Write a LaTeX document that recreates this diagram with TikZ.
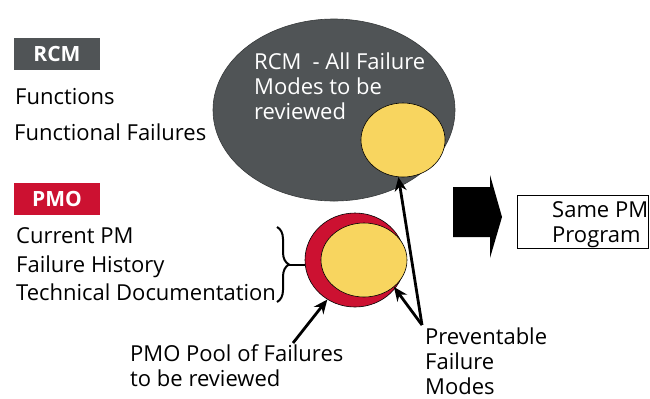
\documentclass[tikz,border=0pt]{standalone}
\usepackage{fontspec}
\setmainfont{Open Sans}
\usetikzlibrary{arrows.meta, shapes.geometric, decorations.pathreplacing}
\definecolor{rcmgray}{RGB}{80,84,86}
\definecolor{pmored}{RGB}{204,17,49}
\definecolor{poolyellow}{RGB}{248,213,95}

\begin{document}
\begin{tikzpicture}[>=Stealth, x=1bp, y=-1bp,
		txt/.style={font=\fontsize{22bp}{25bp}\selectfont, inner sep=0pt, align=left},
		tag/.style={font=\fontsize{21bp}{25bp}\selectfont\bfseries, text=white, minimum width=86bp, minimum height=32bp, inner sep=0pt},
		pool/.style={ellipse, draw=black, line width=0.6bp, inner sep=0pt},
		pointer/.style={->, line width=2.8bp, >={Stealth[length=14bp, width=12bp]}}]
	\useasboundingbox (0,0) rectangle (650,398);
	
	% RCM inputs
	\node[tag, fill=rcmgray] (rcmtag) at (57,53.5) {RCM};
	\node[txt, anchor=base west] (functions) at (15,104) {Functions};
	\node[txt, anchor=base west] (funcfail) at (14,140) {Functional Failures};
	
	% PMO inputs
	\node[tag, fill=pmored] (pmotag) at (57,199) {PMO};
	\node[txt, anchor=base west] (currentpm) at (16,243) {Current PM};
	\node[txt, anchor=base west] (history) at (16,272) {Failure History};
	\node[txt, anchor=base west] (techdoc) at (16,300) {Technical Documentation};
	
	% RCM pool (base anchor sits on the last line)
	\node[pool, draw=rcmgray!70!black, fill=rcmgray, minimum width=242bp, minimum height=182bp] (rcmpool) at (334,110) {};
	\node[txt, text=white, anchor=base west] (rcmtext) at (254,119) {RCM\enspace- All Failure\\Modes to be\\reviewed};
	\node[pool, fill=poolyellow, minimum width=84bp, minimum height=74bp] (rcmfocus) at (403,140) {};
	
	% PMO pool
	\node[pool, fill=pmored, minimum width=100bp, minimum height=94bp] (pmopool) at (355,260) {};
	\node[pool, fill=poolyellow, minimum width=86bp, minimum height=74bp] (pmofocus) at (364,260) {};
	
	% Brace
	\draw[line width=2bp, decorate, decoration={brace, amplitude=12bp}] (277,227) -- (277,302);
	\coordinate (bracetip) at (289,264.5);
	\draw[line width=2bp] (bracetip) -- (bracetip -| pmopool.west);
	
	% Labels below
	\node[txt, anchor=base west] (pooltext) at (130,386) {PMO Pool of Failures\\to be reviewed};
	\node[txt, anchor=base west] (preventtext) at (425,394) {Preventable\\Failure\\Modes};
	\coordinate (pooltail) at (293,343);
	\coordinate (fork) at (422,325);
	\draw[pointer] (pooltail) -- (pmopool.-125);
	\draw[pointer] (fork) -- (rcmfocus.-97);
	\draw[pointer] (fork) -- (pmofocus.-42);
	
	% Result
	\fill (453,187) -- (490,187) -- (490,175) -- (502,217) -- (490,258) -- (490,237) -- (453,237) -- cycle;
	\node[draw, line width=1bp, minimum width=131bp, minimum height=53bp, inner sep=0pt] (samebox) at (582.5,221.5) {};
	\node[txt, anchor=base west] (sametext) at (552,242) {Same PM\\Program};
	
\end{tikzpicture}
\end{document}
